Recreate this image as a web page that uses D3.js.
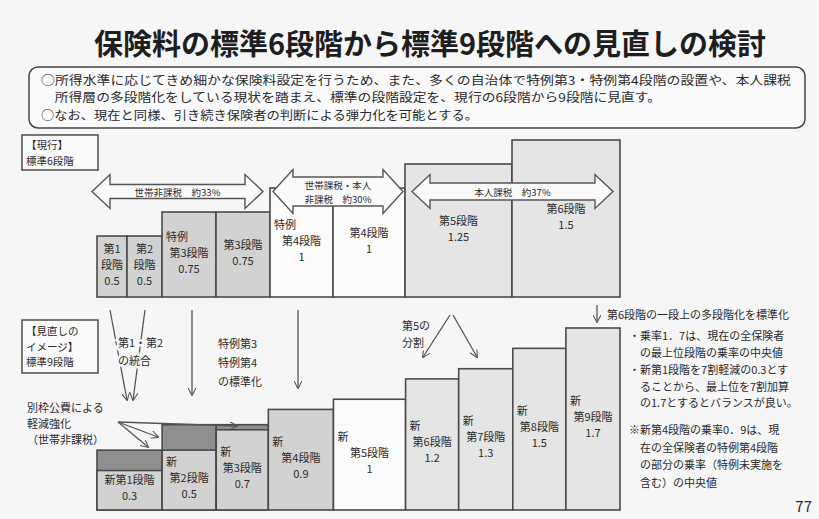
<!DOCTYPE html>
<html>
<head>
<meta charset="utf-8">
<script src="https://cdn.jsdelivr.net/npm/d3@7"></script>
<style>
  body { margin: 0; background: #f6f6f6; }
  text { font-family: "Noto Sans CJK JP", "Noto Sans", sans-serif; fill: #2b2b2b; }
  .title { font-size: 29px; font-weight: bold; fill: #1e1e1e; }
  .info { font-size: 12px; }
  .lab { font-size: 11px; }
  .side { font-size: 10.5px; }
  .note { font-size: 11px; }
  .arrlab { font-size: 9.5px; }
  .halo { paint-order: stroke; stroke: #f6f6f6; stroke-width: 5px; }
</style>
</head>
<body>
<script>
// canvas
var w = 819;
var h = 519;

// ---- data ----
// current standard (6 stages, with special 3/4)
var topLines = [["第1", "段階"], ["第2", "段階"], ["特例", "第3段階"], ["第3段階"],
                ["特例", "第4段階"], ["第4段階"], ["第5段階"], ["第6段階"]];
var topRates = [0.5, 0.5, 0.75, 0.75, 1, 1, 1.25, 1.5];
var topShares = [30, 35, 54, 54, 63, 72, 107, 108];
var topGroup = [0, 0, 0, 0, 1, 1, 2, 2];

// brackets over the current stages
var groupLabels = [["世帯非課税　約33%"], ["世帯課税・本人", "非課税　約30%"], ["本人課税　約37%"]];

// revised image (9 stages)
var botLines = [["新第1段階"], ["新", "第2段階"], ["新", "第3段階"], ["新", "第4段階"],
                ["新", "第5段階"], ["新", "第6段階"], ["新", "第7段階"], ["新", "第8段階"], ["新", "第9段階"]];
var botRates = [0.3, 0.5, 0.7, 0.9, 1, 1.2, 1.3, 1.5, 1.7];
var botBefore = [0.5, 0.75, 0.75, null, null, null, null, null, null]; // before extra public funds
var botShares = [65, 54, 52, 65, 72, 53, 54, 53, 54];
var botGroup = [0, 0, 0, 0, 1, 2, 2, 2, 2];

var titleText = "保険料の標準6段階から標準9段階への見直しの検討";
var infoText = [
  "○所得水準に応じてきめ細かな保険料設定を行うため、また、多くの自治体で特例第3・特例第4段階の設置や、本人課税",
  "　所得層の多段階化をしている現状を踏まえ、標準の段階設定を、現行の6段階から9段階に見直す。",
  "○なお、現在と同様、引き続き保険者の判断による弾力化を可能とする。"
];
var notes1 = ["・乗率1．7は、現在の全保険者", "　の最上位段階の乗率の中央値"];
var notes2 = ["・新第1段階を7割軽減の0.3とす", "　ることから、最上位を7割加算", "　の1.7とするとバランスが良い。"];
var notes3 = ["※新第4段階の乗率0．9は、現", "　在の全保険者の特例第4段階", "　の部分の乗率（特例未実施を", "　含む）の中央値"];

// ---- layout ----
var xL = 97, xR = 620;
var baseTop = 297;
var baseBot = 510;

var svg = d3.select("body").append("svg")
  .attr("width", w)
  .attr("height", h);

svg.append("rect").attr("width", w).attr("height", h).attr("fill", "#f6f6f6");

// arrow marker
svg.append("defs").append("marker")
  .attr("id", "ah")
  .attr("viewBox", "0 0 10 10")
  .attr("refX", 9).attr("refY", 5)
  .attr("markerWidth", 8).attr("markerHeight", 8)
  .attr("markerUnits", "userSpaceOnUse")
  .attr("orient", "auto")
  .append("path")
  .attr("d", "M0,0 L10,5 L0,10")
  .attr("fill", "none")
  .attr("stroke", "#555")
  .attr("stroke-width", 1.3);

// colour by tax group
var fillCol = d3.scaleOrdinal().domain([0, 1, 2]).range(["#d2d2d2", "#fbfbfb", "#e5e5e5"]);

// cumulative x positions
function cumul(arr) {
  var c = [0];
  for (var i = 0; i < arr.length; i++) c.push(c[i] + arr[i]);
  return c;
}
var topCum = cumul(topShares);
var botCum = cumul(botShares);
var xTop = d3.scaleLinear().domain([0, d3.sum(topShares)]).range([xL, xR]);
var xBot = d3.scaleLinear().domain([0, d3.sum(botShares)]).range([xL, xR]);

// y scales (value 0 sits a little above the floor line, as in the slide)
var yTop = d3.scaleLinear().domain([-0.135, 1.5]).range([baseTop, baseTop - 157]);
var yBot = d3.scaleLinear().domain([-0.088, 1.7]).range([baseBot, baseBot - 182]);

// title
svg.append("text")
  .attr("class", "title")
  .attr("x", 430).attr("y", 42)
  .attr("text-anchor", "middle")
  .attr("dominant-baseline", "central")
  .text(titleText);

// info box
svg.append("rect")
  .attr("x", 29).attr("y", 67).attr("width", 776).attr("height", 61)
  .attr("rx", 9)
  .attr("fill", "#fafafa")
  .attr("stroke", "#444").attr("stroke-width", 1.5);
var infoY = [79, 96, 114];
var infoLen = [750, 620, 437];
infoText.forEach(function(t, i) {
  svg.append("text")
    .attr("class", "info")
    .attr("x", 41).attr("y", infoY[i])
    .attr("dominant-baseline", "central")
    .attr("textLength", infoLen[i])
    .attr("lengthAdjust", "spacingAndGlyphs")
    .text(t);
});

// side label boxes
function sideBox(x, y, bw, bh, lines, ly) {
  svg.append("rect")
    .attr("x", x).attr("y", y).attr("width", bw).attr("height", bh)
    .attr("fill", "#fafafa").attr("stroke", "#333").attr("stroke-width", 1.3);
  lines.forEach(function(t, i) {
    svg.append("text").attr("class", "side")
      .attr("x", x + 4).attr("y", ly[i])
      .attr("dominant-baseline", "central")
      .text(t);
  });
}
sideBox(22, 135, 76, 35, ["【現行】", "標準6段階"], [144.5, 160]);
sideBox(22, 320, 76, 53, ["【見直しの", "イメージ】", "標準9段階"], [330.5, 346, 361.5]);

// bar labels: "特例"/"新" left, others centred, value last
function barLabels(lines, rate, x0, x1, yt, yb) {
  var all = lines.concat([String(rate)]);
  var cy = (yt + yb) / 2 - 3;
  var step = 16;
  var y0 = cy - (all.length - 1) * step / 2;
  all.forEach(function(t, i) {
    var left = (t === "特例" || t === "新");
    svg.append("text").attr("class", "lab")
      .attr("x", left ? x0 + 4 : (x0 + x1) / 2)
      .attr("y", y0 + i * step)
      .attr("text-anchor", left ? "start" : "middle")
      .attr("dominant-baseline", "central")
      .text(t);
  });
}

// ---- current bars ----
topRates.forEach(function(r, i) {
  var x0 = xTop(topCum[i]), x1 = xTop(topCum[i + 1]);
  svg.append("rect")
    .attr("x", x0).attr("y", yTop(r))
    .attr("width", x1 - x0).attr("height", baseTop - yTop(r))
    .attr("fill", fillCol(topGroup[i]))
    .attr("stroke", "#4a4a4a").attr("stroke-width", 1.6);
});

// bracket arrows (double headed, outlined)
function dblArrow(x1, x2, cy, sh, hh, hl) {
  var pts = [[x1, cy], [x1 + hl, cy - hh], [x1 + hl, cy - sh], [x2 - hl, cy - sh], [x2 - hl, cy - hh],
             [x2, cy], [x2 - hl, cy + hh], [x2 - hl, cy + sh], [x1 + hl, cy + sh], [x1 + hl, cy + hh]];
  svg.append("polygon")
    .attr("points", pts.map(function(p) { return p.join(","); }).join(" "))
    .attr("fill", "#fafafa")
    .attr("stroke", "#555").attr("stroke-width", 1.4);
}
var groupIdx = d3.groups(d3.range(topGroup.length), function(i) { return topGroup[i]; });
var arrowDims = [[7, 17, 18], [14.5, 22, 20], [8.5, 17, 18]];
var arrowInset = [[-5, 7], [3, 2], [7, 7]];
groupIdx.forEach(function(g, k) {
  var idx = g[1];
  var gx0 = xTop(topCum[idx[0]]) + arrowInset[k][0];
  var gx1 = xTop(topCum[idx[idx.length - 1] + 1]) - arrowInset[k][1];
  var d = arrowDims[k];
  dblArrow(gx0, gx1, 191.5, d[0], d[1], d[2]);
  var lines = groupLabels[k];
  lines.forEach(function(t, j) {
    svg.append("text").attr("class", "arrlab")
      .attr("x", (gx0 + gx1) / 2)
      .attr("y", 191.5 + (j - (lines.length - 1) / 2) * 14)
      .attr("text-anchor", "middle")
      .attr("dominant-baseline", "central")
      .text(t);
  });
});

topRates.forEach(function(r, i) {
  barLabels(topLines[i], r, xTop(topCum[i]), xTop(topCum[i + 1]), yTop(r), baseTop);
});

// ---- revised bars ----
botRates.forEach(function(r, i) {
  var x0 = xBot(botCum[i]), x1 = xBot(botCum[i + 1]);
  if (botBefore[i] !== null) {
    // reduction by extra public funds (dark cap)
    svg.append("rect")
      .attr("x", x0).attr("y", yBot(botBefore[i]))
      .attr("width", x1 - x0).attr("height", baseBot - yBot(botBefore[i]))
      .attr("fill", "#8f8f8f")
      .attr("stroke", "#4a4a4a").attr("stroke-width", 1.6);
  }
  svg.append("rect")
    .attr("x", x0).attr("y", yBot(r))
    .attr("width", x1 - x0).attr("height", baseBot - yBot(r))
    .attr("fill", fillCol(botGroup[i]))
    .attr("stroke", "#4a4a4a").attr("stroke-width", 1.6);
  barLabels(botLines[i], r, x0, x1, yBot(r), baseBot);
});

// ---- connector arrows ----
function arrow(x1, y1, x2, y2) {
  svg.append("line")
    .attr("x1", x1).attr("y1", y1).attr("x2", x2).attr("y2", y2)
    .attr("stroke", "#555").attr("stroke-width", 1.3)
    .attr("marker-end", "url(#ah)");
}
arrow(110, 310, 127, 400);
arrow(145, 310, 133, 400);
arrow(192, 310, 192, 395);
arrow(298, 310, 298, 388);
arrow(118, 422, 148, 447);
arrow(118, 422, 158, 437);
arrow(118, 422, 237, 426);
arrow(450, 315, 423, 357);
arrow(453, 315, 477, 357);
arrow(597, 305, 597, 322);

function textBlock(lines, x, y0, step, cls, halo) {
  lines.forEach(function(t, i) {
    svg.append("text")
      .attr("class", cls + (halo ? " halo" : ""))
      .attr("x", x).attr("y", y0 + i * step)
      .attr("dominant-baseline", "central")
      .text(t);
  });
}
textBlock(["第1・第2", "の統合"], 118, 342, 18, "lab", true);
textBlock(["特例第3", "特例第4", "の標準化"], 218, 343, 19, "lab", false);
textBlock(["別枠公費による", "軽減強化", "（世帯非課税）"], 27, 407, 16, "lab", false);
textBlock(["第5の", "分割"], 402, 325, 16.5, "lab", true);
textBlock(["第6段階の一段上の多段階化を標準化"], 607, 314, 16, "note", false);

// notes on the right
textBlock(notes1, 629, 335, 16.5, "note", false);
textBlock(notes2, 629, 369, 16.5, "note", false);
textBlock(notes3, 629, 429, 17.5, "note", false);

// page number
svg.append("text")
  .attr("x", 812).attr("y", 505)
  .attr("text-anchor", "end")
  .attr("dominant-baseline", "central")
  .style("font-size", "15px")
  .text("77");
</script>
</body>
</html>
